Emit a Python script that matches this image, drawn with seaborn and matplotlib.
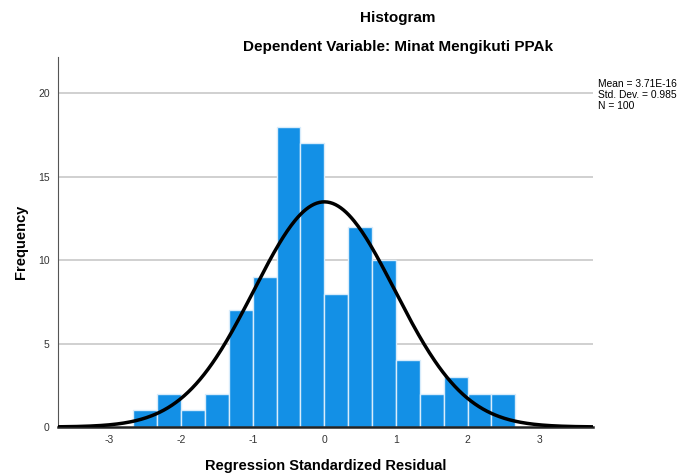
import numpy as np
import pandas as pd
import matplotlib
matplotlib.use("Agg")
import matplotlib.pyplot as plt
import seaborn as sns

# Data
bin_edges = [-8/3, -7/3, -2, -5/3, -4/3, -1, -2/3, -1/3, 0, 1/3, 2/3, 1, 4/3, 5/3, 2, 7/3, 8/3]
counts = [1, 2, 1, 2, 7, 9, 18, 17, 8, 12, 10, 4, 2, 3, 2, 2]
mean_val = 3.71e-16
std_val = 0.985
n_val = 100
x_ticks = [-3, -2, -1, 0, 1, 2, 3]
y_ticks = [0, 5, 10, 15, 20]

sns.set_theme(style="white")
plt.rcParams['font.family'] = ['Liberation Sans', 'DejaVu Sans']
plt.rcParams['axes.unicode_minus'] = False
plt.rcParams['text.color'] = 'black'
plt.rcParams['axes.labelcolor'] = 'black'

fig = plt.figure(figsize=(6.77, 4.74), dpi=100)
ax = fig.add_axes([0.0857, 0.0992, 0.790, 0.781])

edges = np.array(bin_edges)
centers = (edges[:-1] + edges[1:]) / 2
df = pd.DataFrame({"resid": centers, "count": counts})

for y in y_ticks[1:]:
    ax.axhline(y, color="#c8c8c8", lw=1.2, zorder=0)

sns.histplot(data=df, x="resid", weights="count", bins=list(bin_edges), ax=ax,
             color="#1390E6", edgecolor="#d8ecfb", linewidth=1.0, alpha=1.0, zorder=2)

width = edges[1] - edges[0]
xs = np.linspace(-3.72, 3.75, 400)
ys = n_val * width * np.exp(-0.5 * ((xs - mean_val) / std_val) ** 2) / (std_val * np.sqrt(2 * np.pi))
sns.lineplot(x=xs, y=ys, ax=ax, color="black", lw=2.5, zorder=3)

ax.set_xlim(-3.72, 3.75)
ax.set_ylim(0, 22.2)
ax.set_xticks(x_ticks)
ax.set_yticks(y_ticks)
ax.tick_params(axis='both', length=0, labelsize=7.5, colors="#333333", pad=6)
ax.set_xlabel("Regression Standardized Residual", fontsize=10.5, fontweight="bold", labelpad=10)
ax.set_ylabel("Frequency", fontsize=10.5, fontweight="bold", labelpad=7.5)

for s in ["top", "right"]:
    ax.spines[s].set_visible(False)
ax.spines["left"].set_color("#555555")
ax.spines["left"].set_linewidth(0.8)
ax.spines["bottom"].set_color("#222222")
ax.spines["bottom"].set_linewidth(1.8)

fig.text(0.588, 0.962, "Histogram", ha="center", va="center", fontsize=11, fontweight="bold")
fig.text(0.588, 0.901, "Dependent Variable: Minat Mengikuti PPAk", ha="center", va="center",
         fontsize=11, fontweight="bold")
fig.text(0.883, 0.80, f"Mean = 3.71E-16\nStd. Dev. = {std_val}\nN = {n_val}",
         ha="left", va="center", fontsize=7.4, linespacing=1.12)

fig.savefig("out.png", dpi=100)
